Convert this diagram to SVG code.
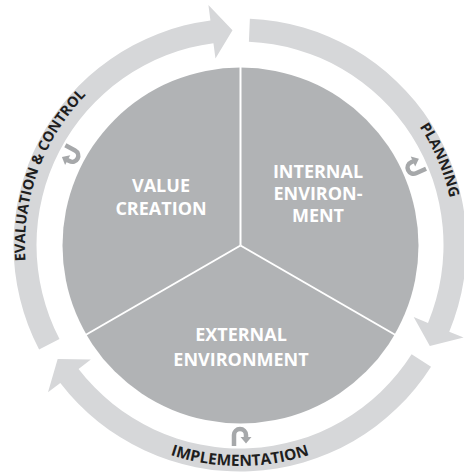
<svg xmlns="http://www.w3.org/2000/svg" xmlns:xlink="http://www.w3.org/1999/xlink" width="464" height="476" viewBox="0 0 464 476">
  <style>
    .arrow { fill: #d6d7d9; }
    .ring-label { font-family: "Open Sans", "Liberation Sans", sans-serif; font-weight: 700; font-size: 14.5px; fill: #1e1e1e; }
    .ring-label.wide { font-size: 15.5px; }
    .center-label { font-family: "Open Sans", "Liberation Sans", sans-serif; font-weight: 700; font-size: 18px; fill: #ffffff; text-anchor: middle; }
    .curl-stroke { fill: none; stroke: #a6a8aa; stroke-width: 4.5; }
    .curl-head { fill: #a6a8aa; }
    .divider { stroke: #ffffff; stroke-width: 2; }
  </style>
  <defs>
    <path id="p-eval" d="M 75.30 383.20 A 215 215 0 0 1 202.67 33.27"/>
    <path id="p-plan" d="M 266.20 31.60 A 215 215 0 0 1 411.71 374.39"/>
    <path id="p-impl" d="M 48.61 355.5 A 221 221 0 0 0 431.39 355.5"/>
    <g id="curl">
      <path class="curl-stroke" d="M 234 446 V 435 A 6 6 0 0 1 246 435 V 437.5"/>
      <polygon class="curl-head" points="240.5,437 251.5,437 246,443.5"/>
    </g>
  </defs>

  <rect width="464" height="476" fill="#ffffff"/>

  <g id="core">
    <circle cx="240.5" cy="245.5" r="178" fill="#b1b3b5"/>
    <line class="divider" x1="240.5" y1="245.5" x2="240.5" y2="66"/>
    <line class="divider" x1="240.5" y1="245.5" x2="85.5" y2="335"/>
    <line class="divider" x1="240.5" y1="245.5" x2="395.5" y2="335"/>
  </g>

  <g id="value-creation">
    <text class="center-label" x="161" y="192">VALUE</text>
    <text class="center-label" x="161" y="215">CREATION</text>
  </g>
  <g id="internal-environment">
    <text class="center-label" x="318" y="177.5">INTERNAL</text>
    <text class="center-label" x="318" y="199.5">ENVIRON-</text>
    <text class="center-label" x="318" y="222">MENT</text>
  </g>
  <g id="external-environment">
    <text class="center-label" x="241" y="341">EXTERNAL</text>
    <text class="center-label" x="241" y="366">ENVIRONMENT</text>
  </g>

  <g id="connectors">
    <g id="evaluation-control">
      <path class="arrow" d="M 39.09 349.59 A 226.5 226.5 0 0 1 210.44 20.44 L 208.41 5.07 L 232.50 30.13 L 215.46 58.61 L 213.44 43.24 A 203.5 203.5 0 0 0 59.49 338.97 Z"/>
      <text class="ring-label"><textPath xlink:href="#p-eval" href="#p-eval" startOffset="50%" text-anchor="middle">EVALUATION &amp; CONTROL</textPath></text>
      <use href="#curl" xlink:href="#curl" transform="rotate(118 240 245)"/>
    </g>
    <g id="planning">
      <path class="arrow" d="M 249.88 18.72 A 226.5 226.5 0 0 1 449.26 331.68 L 463.58 337.61 L 429.83 345.94 L 413.69 316.94 L 428.01 322.88 A 203.5 203.5 0 0 0 248.88 41.69 Z"/>
      <text class="ring-label"><textPath xlink:href="#p-plan" href="#p-plan" startOffset="50%" text-anchor="middle">PLANNING</textPath></text>
      <use href="#curl" xlink:href="#curl" transform="rotate(246 240 245)"/>
    </g>
    <g id="implementation">
      <path class="arrow" d="M 431.03 366.70 A 226.5 226.5 0 0 1 60.31 382.88 L 48.01 392.32 L 57.67 358.93 L 90.85 359.45 L 78.55 368.88 A 203.5 203.5 0 0 0 411.63 354.34 Z"/>
      <text class="ring-label wide"><textPath xlink:href="#p-impl" href="#p-impl" startOffset="50%" text-anchor="middle">IMPLEMENTATION</textPath></text>
      <use href="#curl" xlink:href="#curl"/>
    </g>
  </g>
</svg>
